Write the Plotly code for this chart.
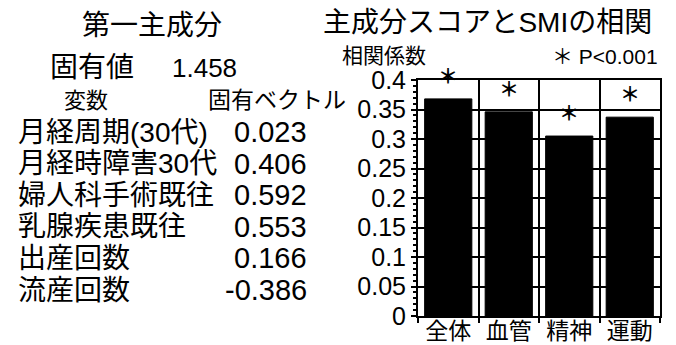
import plotly.graph_objects as go

# ---- data ----
categories = ["全体", "血管", "精神", "運動"]
correlations = [0.368, 0.346, 0.305, 0.337]
significance = ["＊", "＊", "＊", "＊"]
y_tick_values = [0, 0.05, 0.1, 0.15, 0.2, 0.25, 0.3, 0.35, 0.4]
y_tick_labels = ["0", "0.05", "0.1", "0.15", "0.2", "0.25", "0.3", "0.35", "0.4"]

variables = ["月経周期(30代)", "月経時障害30代", "婦人科手術既往", "乳腺疾患既往", "出産回数", "流産回数"]
eigenvectors = ["0.023", "0.406", "0.592", "0.553", "0.166", "-0.386"]
eigenvalue = "1.458"

FONT = "Liberation Sans, Arial, Noto Sans CJK JP, sans-serif"

# ---- layout geometry (pixels) ----
W, H = 676, 345
L, R, T, B = 418, 16, 80, 29
PW, PH = W - L - R, H - T - B


def px(x):
    return (x - L) / PW


def py(y):
    return (H - B - y) / PH


fig = go.Figure()
fig.add_trace(go.Bar(
    x=categories, y=correlations,
    marker=dict(color="black", line=dict(color="black", width=1)),
    width=0.78,
    hoverinfo="skip",
))

annotations = []
# significance stars
for c, v, s in zip(categories, correlations, significance):
    annotations.append(dict(
        x=c, y=v, xref="x", yref="y", text="<b>" + s + "</b>", showarrow=False,
        yanchor="middle", yshift=22, font=dict(size=20, family=FONT, color="black"),
    ))


def txt(text, x, y, size, xanchor="left"):
    annotations.append(dict(
        x=px(x), y=py(y), xref="paper", yref="paper", text=text, showarrow=False,
        xanchor=xanchor, yanchor="middle", font=dict(size=size, family=FONT, color="black"),
    ))


txt("主成分スコアとSMIの相関", 487, 22, 28, "center")
txt("相関係数", 384, 55, 21, "center")
txt("＊ P<0.001", 660, 56, 21, "right")

txt("第一主成分", 152, 26, 28, "center")
txt("固有値", 48, 68, 28)
txt(eigenvalue, 170, 68, 26)
txt("変数", 86, 100, 22, "center")
txt("固有ベクトル", 206, 100, 23)
for i, (v, e) in enumerate(zip(variables, eigenvectors)):
    yy = 132 + i * 31.6
    txt(v, 16, yy, 28)
    txt(e, 309, yy, 29, "right")

fig.update_layout(
    width=W, height=H,
    margin=dict(l=L, r=R, t=T, b=B, pad=0, autoexpand=False),
    paper_bgcolor="white", plot_bgcolor="white",
    showlegend=False,
    annotations=annotations,
    bargap=0.22,
    font=dict(family=FONT, color="black"),
)
fig.update_xaxes(
    type="category", tickson="boundaries", automargin=False,
    showgrid=True, gridcolor="black", gridwidth=2,
    showline=True, linecolor="black", linewidth=2, mirror=True,
    ticks="outside", ticklen=5, tickwidth=2, tickcolor="black",
    ticklabelstandoff=-7,
    tickfont=dict(size=23, family=FONT, color="black"),
    range=[-0.5, 3.5],
)
fig.update_yaxes(
    range=[0, 0.4], tickvals=y_tick_values, ticktext=y_tick_labels, automargin=False,
    showgrid=True, gridcolor="black", gridwidth=2,
    showline=True, linecolor="black", linewidth=2, mirror=True,
    ticks="outside", ticklen=5, tickwidth=2, tickcolor="black",
    tickfont=dict(size=25, family=FONT, color="black"),
    minor=dict(ticks="outside", ticklen=3, tickcolor="black", dtick=0.01, showgrid=False),
    zeroline=False,
)

fig.write_html(
    "out.html",
    config={"displayModeBar": False},
    post_script="document.body.style.margin='0';document.body.style.overflow='hidden';",
)
